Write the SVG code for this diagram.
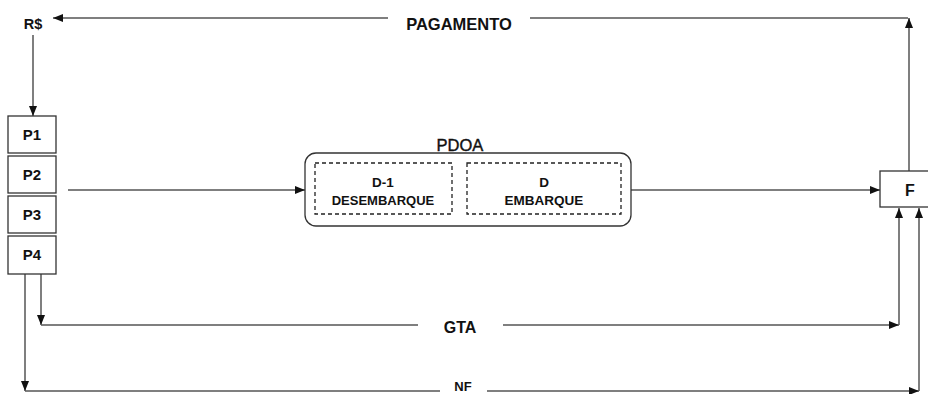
<svg xmlns="http://www.w3.org/2000/svg" width="928" height="394" viewBox="0 0 928 394">
<style>
.box{fill:#fff;stroke:#333;stroke-width:1.3}
.dash{fill:none;stroke:#222;stroke-width:1.3;stroke-dasharray:4 3}
.ln{fill:none;stroke:#555;stroke-width:1.5}
.t{font-family:"Liberation Sans",Arial,sans-serif;fill:#111;text-anchor:middle}
.b{font-weight:bold}
</style>
<defs>
<marker id="ah" viewBox="0 0 10 8" refX="10" refY="4" markerWidth="10" markerHeight="8" markerUnits="userSpaceOnUse" orient="auto">
<path d="M0,0 L10,4 L0,8 z" fill="#111"/>
</marker>
</defs>
<rect width="928" height="394" fill="#fff"/>
<g id="connectors">
<path class="ln" d="M909,171 V18" marker-end="url(#ah)"/>
<path class="ln" d="M908,18 H530"/>
<path class="ln" d="M388,18 H53" marker-end="url(#ah)"/>
<path class="ln" d="M33,35 V116" marker-end="url(#ah)"/>
<path class="ln" d="M68,190 H305" marker-end="url(#ah)"/>
<path class="ln" d="M631,190 H880" marker-end="url(#ah)"/>
<path class="ln" d="M41,274 V325" marker-end="url(#ah)"/>
<path class="ln" d="M41,325 H418"/>
<path class="ln" d="M503,325 H899" marker-end="url(#ah)"/>
<path class="ln" d="M899,325 V208" marker-end="url(#ah)"/>
<path class="ln" d="M25,274 V391" marker-end="url(#ah)"/>
<path class="ln" d="M25,391 H440"/>
<path class="ln" d="M487,391 H919" marker-end="url(#ah)"/>
<path class="ln" d="M919,391 V208" marker-end="url(#ah)"/>
<text class="t b" x="459" y="30" font-size="16.5">PAGAMENTO</text>
<text class="t b" x="460" y="333" font-size="16">GTA</text>
<text class="t b" x="463" y="391" font-size="13">NF</text>
</g>
<g id="rs"><text class="t b" x="33" y="29" font-size="14.5">R$</text></g>
<g id="p1"><rect class="box" x="8" y="116" width="48" height="37"/><text class="t b" x="32" y="140" font-size="15">P1</text></g>
<g id="p2"><rect class="box" x="8" y="156" width="48" height="37"/><text class="t b" x="32" y="180" font-size="15">P2</text></g>
<g id="p3"><rect class="box" x="8" y="196" width="48" height="37"/><text class="t b" x="32" y="220" font-size="15">P3</text></g>
<g id="p4"><rect class="box" x="8" y="236" width="48" height="38"/><text class="t b" x="32" y="260" font-size="15">P4</text></g>
<g id="pdoa">
<text class="t" x="460" y="151" font-size="16.5" stroke="#111" stroke-width="0.4">PDOA</text>
<rect class="box" x="305" y="153" width="326" height="73" rx="11"/>
<rect class="dash" x="315" y="163" width="137" height="51"/>
<text class="t b" x="383" y="187" font-size="13.5">D-1</text>
<text class="t b" x="383" y="205" font-size="13">DESEMBARQUE</text>
<rect class="dash" x="467" y="163" width="154" height="51"/>
<text class="t b" x="544" y="187" font-size="13.5">D</text>
<text class="t b" x="544" y="205" font-size="13.5">EMBARQUE</text>
</g>
<g id="f"><rect class="box" x="880" y="171" width="52" height="36"/><text class="t b" x="910" y="196" font-size="16">F</text></g>
</svg>
